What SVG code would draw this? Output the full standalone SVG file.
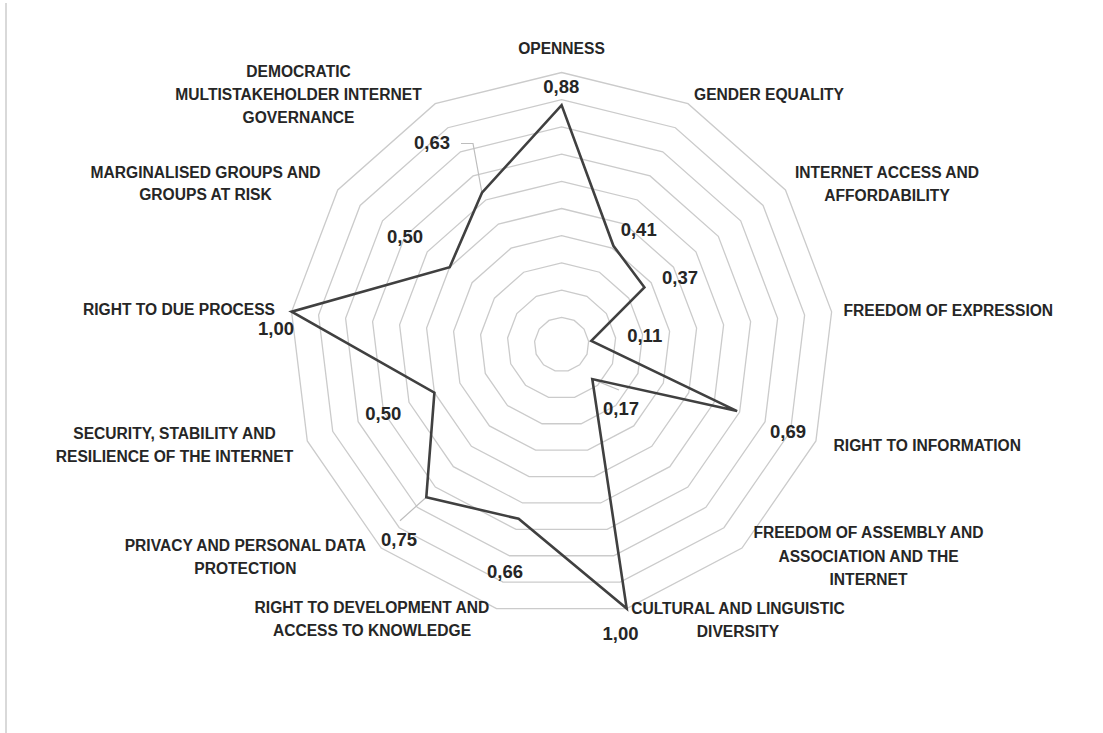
<svg xmlns="http://www.w3.org/2000/svg" xmlns:xlink="http://www.w3.org/1999/xlink" width="1103" height="733" viewBox="0 0 1103 733">
<style>
.ring{fill:none;stroke:#cbcbcb;stroke-width:1.3;vector-effect:non-scaling-stroke}
.data{fill:none;stroke:#404040;stroke-width:2.6;stroke-linejoin:miter}
.lead{fill:none;stroke:#bdbdbd;stroke-width:1.2}
.cat{font-family:"Liberation Sans",Arial,sans-serif;font-weight:bold;font-size:15.6px;fill:#262626;text-anchor:middle}
.val{font-family:"Liberation Sans",Arial,sans-serif;font-weight:bold;font-size:18.5px;fill:#262626;text-anchor:middle}
</style>
<defs>
<polygon id="ring" class="ring" points="0,-100 46.47,-88.55 82.30,-56.81 99.27,-12.05 93.50,35.46 66.31,74.85 23.93,97.09 -23.93,97.09 -66.31,74.85 -93.50,35.46 -99.27,-12.05 -82.30,-56.81 -46.47,-88.55"/>
</defs>
<rect width="1103" height="733" fill="#ffffff"/>
<line x1="6" y1="3" x2="6" y2="733" stroke="#d9d9d9" stroke-width="2"/>
<g id="grid" transform="translate(561.6 344.5)">
<use xlink:href="#ring" transform="scale(0.272)"/>
<use xlink:href="#ring" transform="scale(0.544)"/>
<use xlink:href="#ring" transform="scale(0.816)"/>
<use xlink:href="#ring" transform="scale(1.088)"/>
<use xlink:href="#ring" transform="scale(1.36)"/>
<use xlink:href="#ring" transform="scale(1.632)"/>
<use xlink:href="#ring" transform="scale(1.904)"/>
<use xlink:href="#ring" transform="scale(2.176)"/>
<use xlink:href="#ring" transform="scale(2.448)"/>
<use xlink:href="#ring" transform="scale(2.72)"/>
</g>
<g id="connectors">
<path class="lead" d="M461,143.5 H473 L481.8,192"/>
<path class="lead" d="M426.3,497.2 L400,520.7"/>
<path class="lead" d="M592.3,379.1 L619,390"/>
<polygon class="data" points="561.6,105.1 613.4,245.8 644.4,287.3 591.3,340.9 737.1,411.1 592.3,379.1 626.7,608.6 518.6,518.8 426.3,497.2 434.4,392.7 291.6,311.7 449.7,267.2 482.0,192.7"/>
</g>
<g id="categories">
<g id="n-openness"><text class="cat" x="561.5" y="54">OPENNESS</text></g>
<g id="n-gender"><text class="cat" x="769" y="99.7">GENDER EQUALITY</text></g>
<g id="n-access"><text class="cat" x="887" y="178.3">INTERNET ACCESS AND<tspan x="887" y="200.5">AFFORDABILITY</tspan></text></g>
<g id="n-expression"><text class="cat" x="948.3" y="316">FREEDOM OF EXPRESSION</text></g>
<g id="n-information"><text class="cat" x="927.3" y="450.7">RIGHT TO INFORMATION</text></g>
<g id="n-assembly"><text class="cat" x="868.5" y="538.3">FREEDOM OF ASSEMBLY AND<tspan x="868.5" y="561.5">ASSOCIATION AND THE</tspan><tspan x="868.5" y="584.7">INTERNET</tspan></text></g>
<g id="n-cultural"><text class="cat" x="738" y="614">CULTURAL AND LINGUISTIC<tspan x="738" y="637">DIVERSITY</tspan></text></g>
<g id="n-development"><text class="cat" x="372" y="613.3">RIGHT TO DEVELOPMENT AND<tspan x="372" y="636">ACCESS TO KNOWLEDGE</tspan></text></g>
<g id="n-privacy"><text class="cat" x="245.4" y="550.7">PRIVACY AND PERSONAL DATA<tspan x="245.4" y="573.5">PROTECTION</tspan></text></g>
<g id="n-security"><text class="cat" x="174.5" y="438.5">SECURITY, STABILITY AND<tspan x="174.5" y="461.7">RESILIENCE OF THE INTERNET</tspan></text></g>
<g id="n-dueprocess"><text class="cat" x="275" y="315" style="text-anchor:end">RIGHT TO DUE PROCESS</text></g>
<g id="n-marginalised"><text class="cat" x="205.5" y="178.3">MARGINALISED GROUPS AND<tspan x="205.5" y="200.3">GROUPS AT RISK</tspan></text></g>
<g id="n-democratic"><text class="cat" x="298.5" y="76.7">DEMOCRATIC<tspan x="298.5" y="99.7">MULTISTAKEHOLDER INTERNET</tspan><tspan x="298.5" y="122.7">GOVERNANCE</tspan></text></g>
</g>
<g id="values">
<text class="val" x="561.3" y="93.3">0,88</text>
<text class="val" x="638.7" y="236">0,41</text>
<text class="val" x="680" y="284.3">0,37</text>
<text class="val" x="644.7" y="341.7">0,11</text>
<text class="val" x="788" y="437.7">0,69</text>
<text class="val" x="621" y="415">0,17</text>
<text class="val" x="620.5" y="640">1,00</text>
<text class="val" x="505" y="578.3">0,66</text>
<text class="val" x="399" y="545.7">0,75</text>
<text class="val" x="383.3" y="420">0,50</text>
<text class="val" x="276" y="335">1,00</text>
<text class="val" x="405" y="243.3">0,50</text>
<text class="val" x="432" y="149.3">0,63</text>
</g>
</svg>
